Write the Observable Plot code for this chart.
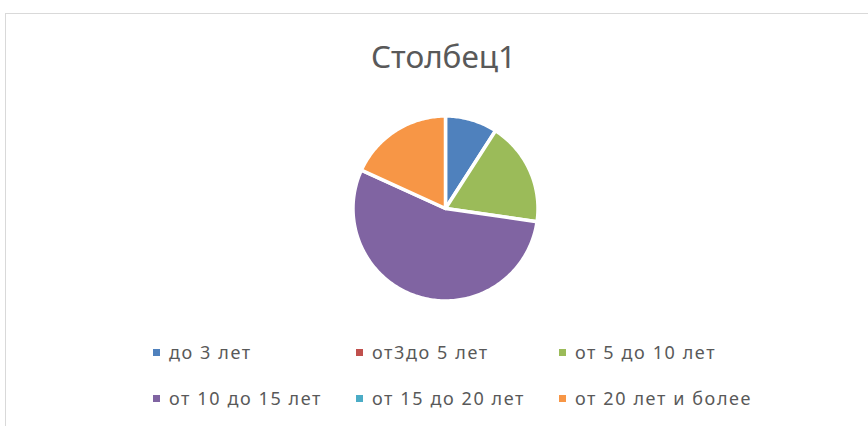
<!DOCTYPE html>
<html>
<head>
<meta charset="utf-8">
<script src="https://cdn.jsdelivr.net/npm/d3@7"></script>
<script src="https://cdn.jsdelivr.net/npm/@observablehq/plot@0.6"></script>
<style>
  html, body { margin: 0; padding: 0; background: #fff; }
  #wrap { position: relative; width: 868px; height: 426px; overflow: hidden; font-family: "Noto Sans", sans-serif; color: #595959; }
  #frame { position: absolute; left: 5px; top: 13px; width: 900px; height: 450px; border: 1px solid #d9d9d9; box-sizing: border-box; }
  #title { position: absolute; left: 0; width: 887px; top: 36px; text-align: center; font-size: 31.5px; line-height: 40px; }
  #pie { position: absolute; left: 344.5px; top: 107.5px; }
  #legend { position: absolute; left: 151px; top: 340px; display: grid; grid-template-columns: 203px 203px 240px; row-gap: 22px; font-size: 18px; line-height: 24px; letter-spacing: 1.6px; }
  .item { display: flex; align-items: center; white-space: nowrap; }
  .sw { width: 7px; height: 7px; margin-right: 9px; margin-left: 2px; }
</style>
</head>
<body>
<div id="wrap">
  <div id="frame"></div>
  <div id="title"></div>
  <div id="pie"></div>
  <div id="legend"></div>
</div>
<script>
const title = "Столбец1";
const categories = ["до 3 лет", "от3до 5 лет", "от 5 до 10 лет", "от 10 до 15 лет", "от 15 до 20 лет", "от 20 лет и более"];
const values = [4, 0, 8, 24, 0, 8];
const colors = ["#4F81BD", "#C0504D", "#9BBB59", "#8064A2", "#4BACC6", "#F79646"];

document.getElementById("title").textContent = title;

const arcs = d3.pie().sort(null).value(d => d)(values);
const marks = [];
arcs.forEach((a, i) => {
  if (a.endAngle - a.startAngle <= 0) return;
  const n = Math.max(2, Math.ceil((a.endAngle - a.startAngle) / (2 * Math.PI) * 360));
  const pts = [{x: 0, y: 0}];
  for (let k = 0; k <= n; k++) {
    const t = a.startAngle + (a.endAngle - a.startAngle) * k / n;
    pts.push({x: Math.sin(t), y: Math.cos(t)});
  }
  pts.push({x: 0, y: 0});
  marks.push(Plot.line(pts, {x: "x", y: "y", fill: colors[i], stroke: "white", strokeWidth: 3.5, strokeLinejoin: "round", curve: "linear"}));
});

const chart = Plot.plot({
  width: 200,
  height: 200,
  margin: 7.5,
  x: {domain: [-1, 1], axis: null},
  y: {domain: [-1, 1], axis: null},
  marks
});
document.getElementById("pie").appendChild(chart);

const legend = document.getElementById("legend");
categories.forEach((c, i) => {
  const it = document.createElement("div");
  it.className = "item";
  const sw = document.createElement("span");
  sw.className = "sw";
  sw.style.background = colors[i];
  const tx = document.createElement("span");
  tx.textContent = c;
  it.appendChild(sw);
  it.appendChild(tx);
  legend.appendChild(it);
});
</script>
</body>
</html>
